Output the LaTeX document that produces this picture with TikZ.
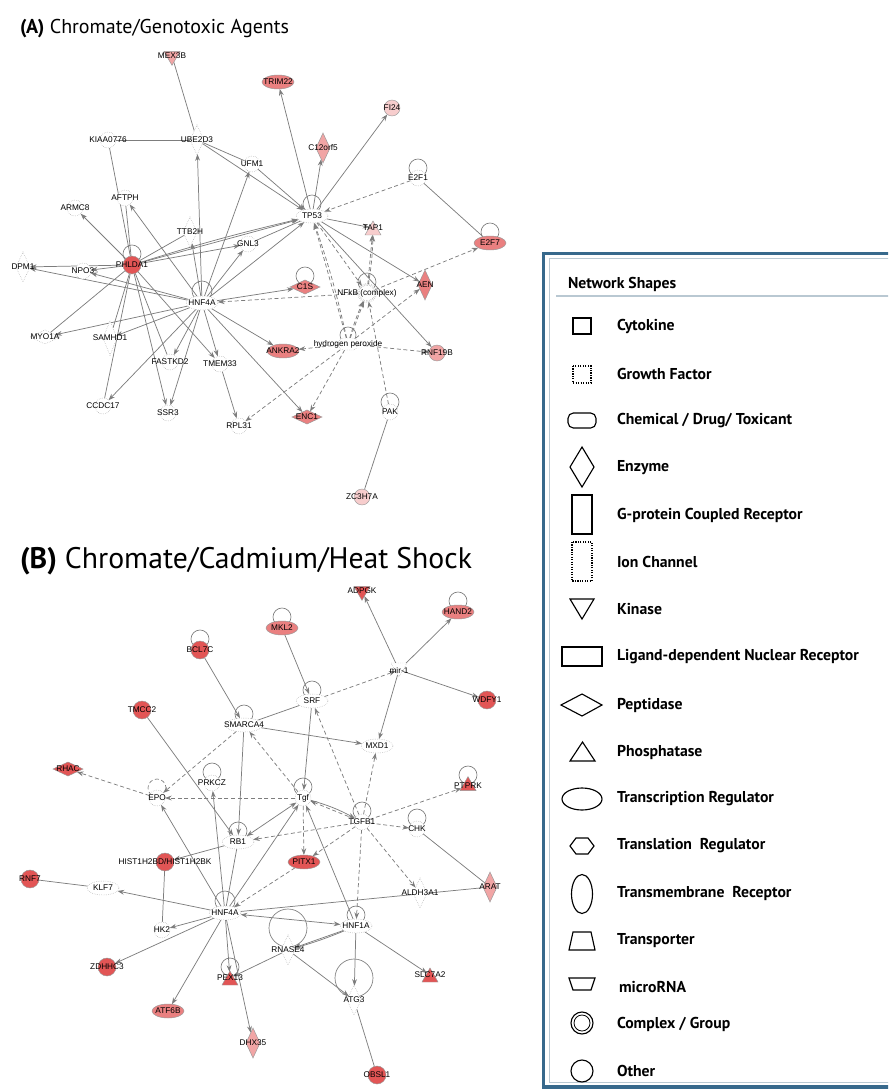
\documentclass[tikz,border=0pt]{standalone}
\usepackage{fontspec}
\setmainfont{PT Sans}
\newfontfamily\labf{Liberation Sans}
\usetikzlibrary{shapes.geometric,arrows.meta,calc}
\pgfdeclarelayer{bg}
\pgfsetlayers{bg,main}
\definecolor{rS}{RGB}{226,85,85}
\definecolor{rM}{RGB}{234,128,128}
\definecolor{rL}{RGB}{241,165,165}
\definecolor{rXL}{RGB}{247,205,205}
\definecolor{edgec}{RGB}{125,125,125}
\definecolor{legblue}{RGB}{55,105,140}
\definecolor{leglight}{RGB}{185,200,210}
\newcommand\mb[1]{\makebox[0pt]{#1}}
\newcommand\sloop[3]{\draw[loopc] ($(#1.center)+(0,-#2)$) circle[radius=#3];}
\begin{document}
\begin{tikzpicture}[x=0.75pt,y=-0.75pt,
 every node/.style={inner sep=0pt, outer sep=0pt},
 nd/.style={draw=gray!80, line width=0.35pt, fill=white, font=\labf\fontsize{6.2}{6.2}\selectfont, text=black},
 wd/.style={nd, densely dotted},
 oth/.style={circle, minimum size=12pt},
 bigc/.style={circle, minimum size=13.5pt},
 enz/.style={diamond, minimum width=10.5pt, minimum height=22.5pt},
 pep/.style={diamond, minimum width=22.5pt, minimum height=10.5pt},
 tfac/.style={ellipse, minimum width=24pt, minimum height=10.5pt},
 kin/.style={regular polygon, regular polygon sides=3, shape border rotate=180, minimum size=14pt},
 phos/.style={regular polygon, regular polygon sides=3, minimum size=14pt},
 trans/.style={trapezium, trapezium left angle=70, trapezium right angle=70, trapezium stretches=true, minimum width=12pt, minimum height=10.5pt},
 mirna/.style={trans, shape border rotate=180},
 chem/.style={rectangle, rounded corners=3pt, minimum width=13.5pt, minimum height=9pt},
 cplx/.style={circle, double, double distance=1pt, minimum size=13pt},
 edge/.style={draw=edgec, line width=0.55pt},
 ea/.style={edge, -{Stealth[length=5pt,width=3.6pt]}},
 eb/.style={edge, {Stealth[length=5pt,width=3.6pt]}-{Stealth[length=5pt,width=3.6pt]}},
 ed/.style={ea, dash pattern=on 3pt off 2pt},
 ep/.style={edge},
 loopc/.style={draw=edgec, line width=0.5pt},
 legt/.style={anchor=west, font=\bfseries\fontsize{11.8}{14}\selectfont},
 leg/.style={draw=black, line width=0.85pt}
]
\useasboundingbox (0,0) rectangle (888,1091);
\clip (0,0) rectangle (888,1091);

% ---------- titles
\node[anchor=base west] (titA) at (20,34) {\fontsize{15}{18}\selectfont\textbf{(A)} Chromate/Genotoxic Agents};
\node[anchor=base west] (titB) at (20,568) {\fontsize{22.3}{26}\selectfont\textbf{(B)} Chromate/Cadmium/Heat Shock};

% ---------- panel A nodes
\node[nd,kin,fill=rL] (mex) at (172,56) {\mb{MEX3B}};
\node[nd,tfac,fill=rM] (trim) at (278,82) {\mb{TRIM22}};
\node[nd,oth,fill=rXL] (fi) at (392,108) {\mb{FI24}};
\node[nd,enz,fill=rL] (c12) at (323,148) {\mb{C12orf5}};
\node[wd,oth] (kiaa) at (108,140) {\mb{KIAA0776}};
\node[wd,enz] (ube) at (197,140) {\mb{UBE2D3}};
\node[wd,oth] (ufm) at (252,164) {\mb{UFM1}};
\node[wd,oth] (aft) at (125,198) {\mb{AFTPH}};
\node[wd,oth] (armc) at (75,208) {\mb{ARMC8}};
\node[wd,oth] (e2fa) at (418,178) {\mb{E2F1}};
\node[wd,tfac] (tp53) at (312,216) {\mb{TP53}};
\node[wd,enz] (ttb) at (190,232) {\mb{TTB2H}};
\node[wd,oth] (gnl) at (248,244) {\mb{GNL3}};
\node[nd,trans,fill=rXL] (tap) at (373,228) {\mb{TAP1}};
\node[nd,tfac,fill=rM] (e2fb) at (490,243) {\mb{E2F7}};
\node[wd,enz] (dpm) at (23,267) {\mb{DPM1}};
\node[wd,oth] (npo) at (83,271) {\mb{NPO3}};
\node[nd,bigc,fill=rS] (phl) at (132,265) {\mb{PHLDA1}};
\node[nd,pep,fill=rM] (c1s) at (305,287) {\mb{C1S}};
\node[wd,cplx] (nfkb) at (367,293) {\mb{NFkB (complex)}};
\node[nd,enz,fill=rM] (aen) at (425,285) {\mb{AEN}};
\node[wd,tfac] (hnfa) at (202,303) {\mb{HNF4A}};
\node[wd,pep] (myo) at (45,337) {\mb{MYO1A}};
\node[wd,enz,minimum height=26pt] (sam) at (110,338) {\mb{SAMHD1}};
\node[wd,chem] (h2o2) at (348,344) {\mb{hydrogen peroxide}};
\node[nd,tfac,fill=rM] (ank) at (283,351) {\mb{ANKRA2}};
\node[nd,oth,fill=rL] (rnf) at (437,353) {\mb{RNF19B}};
\node[wd,oth] (fast) at (170,362) {\mb{FASTKD2}};
\node[wd,oth] (tmem) at (220,364) {\mb{TMEM33}};
\node[wd,oth] (ccdc) at (103,406) {\mb{CCDC17}};
\node[wd,oth] (ssr) at (168,413) {\mb{SSR3}};
\node[wd,oth] (rpl) at (239,426) {\mb{RPL31}};
\node[nd,pep,fill=rM] (enc) at (307,417) {\mb{ENC1}};
\node[wd,oth] (pak) at (390,412) {\mb{PAK}};
\node[nd,oth,fill=rXL] (zc) at (362,497) {\mb{ZC3H7A}};

% ---------- panel B nodes
\node[nd,kin,fill=rS] (adp) at (362,591) {\mb{ADPGK}};
\node[nd,tfac,fill=rM] (hand) at (458,612) {\mb{HAND2}};
\node[nd,tfac,fill=rM] (mkl) at (282,628) {\mb{MKL2}};
\node[nd,bigc,fill=rS] (bcl) at (200,650) {\mb{BCL7C}};
\node[wd,mirna] (mir) at (399,670) {\mb{mir-1}};
\node[wd,tfac] (srf) at (312,701) {\mb{SRF}};
\node[nd,bigc,fill=rS] (wdfy) at (487,700) {\mb{WDFY1}};
\node[nd,bigc,fill=rS] (tmcc) at (142,710) {\mb{TMCC2}};
\node[wd,tfac,minimum width=28pt] (smarca) at (244,725) {\mb{SMARCA4}};
\node[wd,tfac] (mxd) at (377,746) {\mb{MXD1}};
\node[nd,pep,fill=rS] (rhac) at (68,769) {\mb{RHAC}};
\node[wd,oth] (prkcz) at (212,783) {\mb{PRKCZ}};
\node[nd,phos,fill=rS] (ptprk) at (468,786) {\mb{PTPRK}};
\node[wd,oth] (epo) at (157,798) {\mb{EPO}};
\node[wd,oth] (tgf) at (303,798) {\mb{Tgf}};
\node[wd,oth] (tgfb) at (362,822) {\mb{TGFB1}};
\node[wd,oth] (chk) at (417,829) {\mb{CHK}};
\node[wd,tfac] (rb) at (238,842) {\mb{RB1}};
\node[nd,bigc,fill=rS] (hist) at (165,862) {\mb{HIST1H2BD/HIST1H2BK}};
\node[nd,tfac,fill=rS] (pitx) at (304,862) {\mb{PITX1}};
\node[nd,bigc,fill=rS] (rnfb) at (30,879) {\mb{RNF7}};
\node[wd,tfac] (klf) at (103,888) {\mb{KLF7}};
\node[nd,enz,fill=rL] (arat) at (490,887) {\mb{ARAT}};
\node[wd,enz] (aldh) at (420,893) {\mb{ALDH3A1}};
\node[wd,tfac] (hnfb) at (225,913) {\mb{HNF4A}};
\node[wd,tfac] (hnf1) at (356,926) {\mb{HNF1A}};
\node[wd,oth] (hk) at (162,930) {\mb{HK2}};
\node[wd,enz] (rnase) at (288,950) {\mb{RNASE4}};
\node[nd,bigc,fill=rS] (zdh) at (107,967) {\mb{ZDHHC3}};
\node[nd,trans,fill=rS] (slc) at (430,975) {\mb{SLC7A2}};
\node[nd,trans,fill=rS] (pex) at (230,978) {\mb{PEX13}};
\node[wd,enz] (atg) at (354,1000) {\mb{ATG3}};
\node[nd,tfac,fill=rM] (atf) at (168,1011) {\mb{ATF6B}};
\node[nd,enz,fill=rL] (dhx) at (253,1043) {\mb{DHX35}};
\node[nd,bigc,fill=rS] (obsl) at (377,1075) {\mb{OBSL1}};

\begin{pgfonlayer}{bg}
% loops A
\sloop{tp53}{12}{9}
\sloop{e2fa}{10}{9}
\sloop{e2fb}{11}{9}
\sloop{phl}{11}{9}
\sloop{hnfa}{12}{10}
\sloop{c1s}{11}{9}
\sloop{nfkb}{11}{9}
\sloop{h2o2}{9}{8}
\sloop{pak}{10}{9}
% loops B
\sloop{hand}{11}{9}
\sloop{mkl}{11}{9}
\sloop{bcl}{11}{9}
\sloop{srf}{11}{9}
\sloop{smarca}{11}{9}
\sloop{prkcz}{11}{9}
\sloop{ptprk}{11}{9}
\draw[loopc,densely dashed] ($(epo.center)+(0,-10)$) circle[radius=9];
\sloop{tgf}{11}{9}
\sloop{tgfb}{11}{9}
\sloop{chk}{11}{9}
\sloop{rb}{11}{9}
\sloop{hnfb}{12}{10}
\sloop{hnf1}{11}{9}
\sloop{pex}{11}{9}
\sloop{rnase}{22}{19}
\sloop{atg}{22}{19}

% edges A
\draw[ep] (mex) -- (ube);
\draw[ep] (kiaa) -- (ube);
\draw[ep] (kiaa) -- (phl);
\draw[ep] (aft) -- (phl);
\draw[ep] (ube) -- (ufm);
\draw[ea] (ube) -- (tp53);
\draw[ea] (ufm) -- (tp53);
\draw[ea] (hnfa) -- (ube);
\draw[ea] (hnfa) -- (ufm);
\draw[ea] (hnfa) -- (aft);
\draw[ea] (phl) -- (armc);
\draw[ep] (phl) -- (ttb);
\draw[ea] (hnfa) -- (ttb);
\draw[ea] (phl) -- (gnl);
\draw[ea] (phl) -- (tp53);
\draw[ea] (phl) to[bend left=2] (tp53);
\draw[ea] (hnfa) -- (gnl);
\draw[ea] (hnfa) -- (tp53);
\draw[ep] (gnl) -- (tp53);
\draw[ea] (phl) -- (dpm);
\draw[ea] (phl) -- (npo);
\draw[ea] (hnfa) -- (dpm);
\draw[ea] (hnfa) -- (npo);
\draw[ea] (hnfa) -- (myo);
\draw[ep] (phl) -- (myo);
\draw[ea] (hnfa) -- (sam);
\draw[ep] (phl) -- (sam);
\draw[ep] (phl) -- (ccdc);
\draw[ea] (hnfa) -- (ccdc);
\draw[ea] (phl) -- (ssr);
\draw[ea] (hnfa) -- (ssr);
\draw[ep] (phl) -- (fast);
\draw[ea] (hnfa) -- (fast);
\draw[ea] (phl) -- (tmem);
\draw[ea] (hnfa) -- (tmem);
\draw[ea] (tmem) -- (rpl);
\draw[ed] (h2o2) -- (rpl);
\draw[ea] (hnfa) -- (enc);
\draw[ed] (h2o2) -- (enc);
\draw[ea] (hnfa) -- (ank);
\draw[ed] (h2o2) -- (ank);
\draw[ed] (h2o2) -- (rnf);
\draw[ed] (h2o2) -- (aen);
\draw[ed] (h2o2) -- (nfkb);
\draw[ed] (h2o2) to[bend left=4] (nfkb);
\draw[ed] (h2o2) -- (tp53);
\draw[ed] (h2o2) to[bend right=3] (tp53);
\draw[ed] (nfkb) -- (tap);
\draw[ed] (nfkb) to[bend right=4] (tap);
\draw[ed] (nfkb) -- (hnfa);
\draw[ed] (nfkb) -- (e2fb);
\draw[ea] (hnfa) -- (c1s);
\draw[ed] (tp53) -- (nfkb);
\draw[ea] (tp53) -- (aen);
\draw[ea] (tp53) -- (tap);
\draw[ea] (tp53) -- (c12);
\draw[ea] (tp53) -- (trim);
\draw[ea] (tp53) -- (fi);
\draw[ed] (e2fa) -- (tp53);
\draw[ep] (e2fa) -- (e2fb);
\draw[ea] (tp53) -- (rnf);
\draw[ed] (pak) -- (nfkb);
\draw[ep] (zc) -- (pak);

% edges B
\draw[ea] (bcl) -- (smarca);
\draw[ea] (tmcc) -- (rb);
\draw[ed] (epo) -- (rhac);
\draw[ed] (smarca) -- (epo);
\draw[ed] (tgf) -- (epo);
\draw[ep] (smarca) -- (srf);
\draw[ea] (smarca) -- (mxd);
\draw[ea] (smarca) -- (rb);
\draw[ed] (tgf) -- (smarca);
\draw[ea] (mkl) -- (srf);
\draw[ed] (srf) -- (mir);
\draw[ea] (mir) -- (adp);
\draw[ea] (mir) -- (hand);
\draw[ea] (mir) -- (wdfy);
\draw[ea] (mir) -- (mxd);
\draw[ea] (srf) -- (tgf);
\draw[ed] (tgfb) -- (srf);
\draw[ed] (tgfb) -- (mxd);
\draw[ed] (tgfb) -- (tgf);
\draw[ea] (tgf) to[bend left=6] (tgfb);
\draw[ed] (tgfb) -- (ptprk);
\draw[ed] (tgfb) -- (chk);
\draw[ed] (tgfb) -- (rb);
\draw[ed] (tgfb) -- (pitx);
\draw[ed] (tgfb) -- (aldh);
\draw[ed] (tgfb) -- (hnf1);
\draw[ed] (tgf) -- (pitx);
\draw[eb] (tgf) -- (rb);
\draw[ea] (hnfb) -- (tgf);
\draw[ea] (hnf1) -- (tgf);
\draw[ep] (rb) -- (hnfb);
\draw[ea] (hnfb) -- (prkcz);
\draw[ea] (hnfb) -- (epo);
\draw[ea] (hnfb) -- (klf);
\draw[ep] (klf) -- (rnfb);
\draw[ea] (hnfb) -- (hk);
\draw[ep] (hk) -- (hist);
\draw[ea] (rb) -- (hist);
\draw[ea] (hnfb) -- (zdh);
\draw[ea] (hnfb) -- (atf);
\draw[ea] (hnfb) -- (pex);
\draw[ea] (hnfb) -- (dhx);
\draw[eb] (hnfb) -- (hnf1);
\draw[ep] (hnfb) -- (arat);
\draw[ea] (hnf1) -- (rnase);
\draw[ea] (hnf1) to[bend left=3] (rnase);
\draw[ea] (hnf1) -- (atg);
\draw[ea] (hnf1) -- (slc);
\draw[ea] (rnase) -- (atg);
\draw[ea] (rnase) -- (pex);
\draw[ep] (atg) -- (obsl);
\draw[ep] (chk) -- (arat);
\draw[ed] (pitx) -- (hnfb);
\end{pgfonlayer}

% ---------- legend
\draw[legblue, line width=2.6pt] (543.5,253.5) rectangle (900,1087);
\draw[leglight, line width=0.6pt] (549.5,258.5) rectangle (900,1082);
\node[legt] (lgT) at (568,284) {Network Shapes};
\draw[leglight, line width=0.8pt] (556,296) -- (900,296);
\draw[leg] (573,318) rectangle (591,334);
\node[legt] (lg1) at (617,326) {Cytokine};
\draw[leg, densely dotted] (573,366) rectangle (591,383);
\node[legt] (lg2) at (617,374) {Growth Factor};
\draw[leg, rounded corners=4pt] (568,413) rectangle (596,428);
\node[legt] (lg3) at (617,421) {Chemical / Drug/ Toxicant};
\draw[leg] (582,447) -- (594,467) -- (582,487) -- (570,467) -- cycle;
\node[legt] (lg4) at (617,468) {Enzyme};
\draw[leg] (572,495) rectangle (592,534);
\node[legt] (lg5) at (617,515) {G-protein Coupled Receptor};
\draw[leg, densely dotted] (572,542) rectangle (592,581);
\node[legt] (lg6) at (617,562) {Ion Channel};
\draw[leg] (570,599) -- (594,599) -- (582,619) -- cycle;
\node[legt] (lg7) at (617,609) {Kinase};
\draw[leg] (562,647) rectangle (602,666);
\node[legt] (lg8) at (617,657) {Ligand-dependent Nuclear Receptor};
\draw[leg] (561,705) -- (582,694) -- (602,705) -- (582,716) -- cycle;
\node[legt] (lg9) at (617,705) {Peptidase};
\draw[leg] (570,761) -- (595,761) -- (582.5,742) -- cycle;
\node[legt] (lg10) at (617,752) {Phosphatase};
\draw[leg] (582,799) ellipse [x radius=20, y radius=11];
\node[legt] (lg11) at (617,799) {Transcription Regulator};
\draw[leg] (570,846) -- (576,838) -- (588,838) -- (594,846) -- (588,854) -- (576,854) -- cycle;
\node[legt] (lg12) at (617,846) {Translation\ \ Regulator};
\draw[leg] (582,894) ellipse [x radius=10.5, y radius=19.5];
\node[legt] (lg13) at (617,893) {Transmembrane\ \ Receptor};
\draw[leg] (569,950) -- (595,950) -- (591,932) -- (573,932) -- cycle;
\node[legt] (lg14) at (617,941) {Transporter};
\draw[leg] (569,978) -- (595,978) -- (591,990) -- (573,990) -- cycle;
\node[legt] (lg15) at (619,987) {microRNA};
\draw[leg] (582,1023) circle[radius=11];
\draw[leg, line width=0.6pt] (582,1023) circle[radius=8];
\node[legt] (lg16) at (617,1024) {Complex / Group};
\draw[leg] (582,1071) circle[radius=11];
\node[legt] (lg17) at (617,1071) {Other};
\end{tikzpicture}
\end{document}
